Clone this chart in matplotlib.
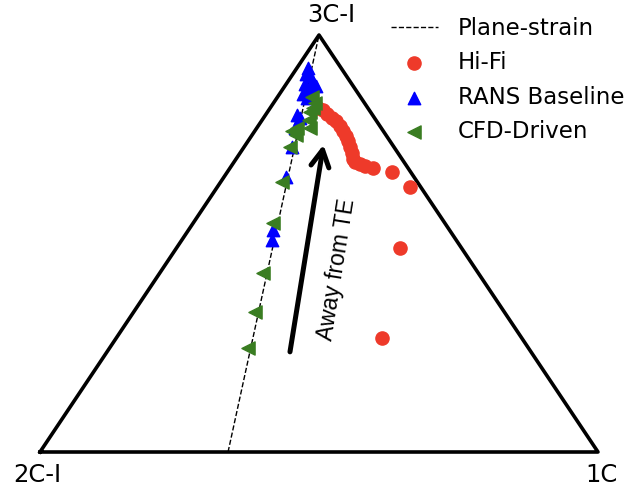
import numpy as np
import matplotlib.pyplot as plt

# triangle map coordinates (x, y), vertices 2C-I (0,0), 1C (1,0), 3C-I (0.5, sqrt(3)/2)
hifi_x = [0.498, 0.507, 0.514, 0.523, 0.530, 0.538, 0.543, 0.548, 0.552, 0.556,
          0.559, 0.561, 0.565, 0.573, 0.582, 0.597, 0.631, 0.663, 0.645, 0.613]
hifi_y = [0.714, 0.710, 0.702, 0.694, 0.687, 0.677, 0.667, 0.656, 0.646, 0.633,
          0.621, 0.609, 0.602, 0.598, 0.594, 0.590, 0.582, 0.550, 0.424, 0.237]

rans_x = [0.480, 0.477, 0.484, 0.489, 0.475, 0.484, 0.495, 0.471, 0.478, 0.461,
          0.466, 0.457, 0.452, 0.441, 0.418, 0.416]
rans_y = [0.798, 0.785, 0.781, 0.768, 0.764, 0.756, 0.760, 0.744, 0.735, 0.700,
          0.694, 0.673, 0.633, 0.571, 0.461, 0.440]

cfd_x = [0.487, 0.493, 0.489, 0.484, 0.482, 0.484, 0.461, 0.452, 0.459, 0.448,
         0.434, 0.418, 0.400, 0.385, 0.373]
cfd_y = [0.737, 0.725, 0.714, 0.706, 0.690, 0.673, 0.673, 0.667, 0.658, 0.633,
         0.561, 0.476, 0.372, 0.291, 0.216]

h = np.sqrt(3) / 2
tri_x = [0, 1, 0.5, 0]
tri_y = [0, 0, h, 0]
ps_x = [0.337, 0.5]
ps_y = [0, h]

fig = plt.figure(figsize=(6.29, 4.94), dpi=100)
ax = fig.add_axes([0, 0, 1, 1])
ax.set_xlim(-40 / 558, 589 / 558)
ax.set_ylim(-42 * h / 417, 452 * h / 417)
ax.axis('off')

ax.plot(tri_x, tri_y, color='k', lw=2.6, zorder=1)
ax.plot(ps_x, ps_y, 'k--', lw=1, label='Plane-strain', zorder=2)
ax.scatter(hifi_x, hifi_y, s=90, color='#ee3a2a', marker='o', label='Hi-Fi', zorder=3)
ax.scatter(rans_x, rans_y, s=80, color='#0000ff', marker='^', label='RANS Baseline', zorder=4)
ax.scatter(cfd_x, cfd_y, s=90, color='#3a7d22', marker='<', label='CFD-Driven', zorder=5)

ax.annotate('', xy=(0.508, 0.638), xytext=(0.448, 0.208),
            arrowprops=dict(arrowstyle='->, head_width=0.65, head_length=1.2',
                            lw=3.6, color='k', shrinkA=0, shrinkB=0))
ax.text(0.532, 0.378, 'Away from TE', rotation=81, fontsize=16.5,
        family='Liberation Sans', ha='center', va='center')

ax.text((331 - 40) / 558, (452 - 15) * h / 417, '3C-I', fontsize=17.5, ha='center', va='center')
ax.text((37 - 40) / 558, (452 - 475) * h / 417, '2C-I', fontsize=17.5, ha='center', va='center')
ax.text((602 - 40) / 558, (452 - 475) * h / 417, '1C', fontsize=17.5, ha='center', va='center')

ax.legend(loc='upper left', bbox_to_anchor=(391 / 629, 1 - 17 / 494),
          bbox_transform=fig.transFigure, frameon=False, fontsize=16.5,
          handlelength=2.05, handletextpad=0.88, labelspacing=0.5,
          borderpad=0, borderaxespad=0)

plt.savefig('out.png', dpi=100)
